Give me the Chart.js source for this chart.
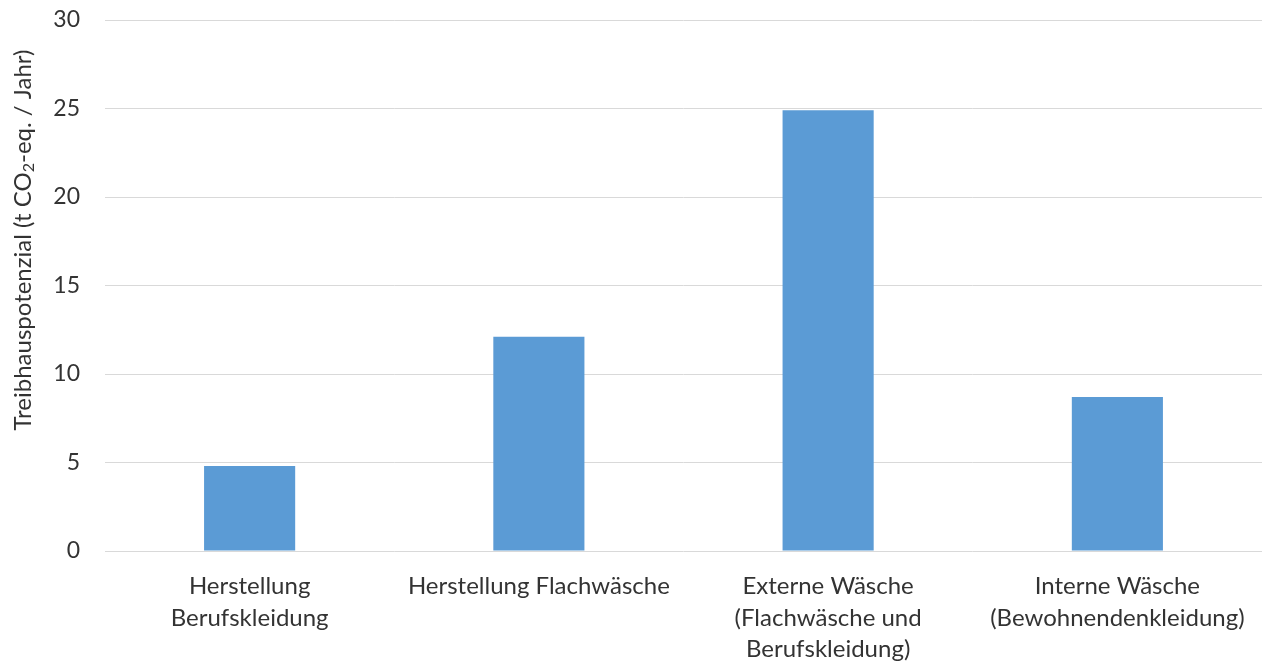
<!DOCTYPE html>
<html>
<head>
<meta charset="utf-8">
<script src="https://cdn.jsdelivr.net/npm/chart.js@4.4.1/dist/chart.umd.min.js"></script>
<style>
  html, body { margin: 0; padding: 0; background: #fff; }
  #wrap { width: 1262px; height: 664px; position: relative; }
</style>
</head>
<body>
<div id="wrap"><canvas id="chart"></canvas></div>
<script>
// categories (multi-line labels) and values in t CO2-eq. per year
const categories = [
    ['Herstellung', 'Berufskleidung'],
    ['Herstellung Flachwäsche'],
    ['Externe Wäsche', '(Flachwäsche und', 'Berufskleidung)'],
    ['Interne Wäsche', '(Bewohnendenkleidung)']
];
const values = [4.8, 12.1, 24.9, 8.7];
const yTicks = [0, 5, 10, 15, 20, 25, 30];

const FONT = 'Lato, "Open Sans", sans-serif';
const TEXT_COLOR = '#333333';

// y-axis title with a real subscript "2"
const axisTitlePlugin = {
    id: 'axisTitle',
    afterDraw(chart) {
        const ctx = chart.ctx;
        const parts = [
            { t: 'Treibhauspotenzial (t CO', size: 24, dy: 0 },
            { t: '2', size: 16, dy: 6 },
            { t: '-eq. / Jahr)', size: 24, dy: 0 }
        ];
        ctx.save();
        let total = 0;
        parts.forEach(p => {
            ctx.font = `${p.size}px ${FONT}`;
            p.w = ctx.measureText(p.t).width;
            total += p.w;
        });
        ctx.translate(23, 240);
        ctx.rotate(-Math.PI / 2);
        ctx.fillStyle = TEXT_COLOR;
        ctx.textBaseline = 'middle';
        let x = -total / 2;
        parts.forEach(p => {
            ctx.font = `${p.size}px ${FONT}`;
            ctx.fillText(p.t, x, p.dy);
            x += p.w;
        });
        ctx.restore();
    }
};

new Chart(document.getElementById('chart'), {
    type: 'bar',
    data: {
        labels: categories,
        datasets: [{
            data: values,
            backgroundColor: '#5B9BD5',
            borderWidth: 0,
            barPercentage: 1,
            categoryPercentage: 0.315
        }]
    },
    options: {
        responsive: true,
        maintainAspectRatio: false,
        animation: false,
        layout: { padding: 0 },
        plugins: {
            legend: { display: false },
            tooltip: { enabled: false }
        },
        scales: {
            y: {
                min: 0,
                max: 30,
                afterBuildTicks: axis => {
                    axis.ticks = yTicks.map(v => ({ value: v }));
                },
                afterFit: axis => {
                    axis.width = 105;
                    axis.paddingTop = 20;
                    axis.paddingBottom = 0;
                },
                border: { display: false },
                grid: { color: '#D9D9D9', lineWidth: 1, drawTicks: false },
                ticks: {
                    padding: 25,
                    color: TEXT_COLOR,
                    font: { family: FONT, size: 23 }
                }
            },
            x: {
                afterFit: axis => {
                    axis.height = 113;
                    axis.paddingTop = 0;
                    axis.paddingBottom = 0;
                    axis.paddingLeft = 0;
                    axis.paddingRight = 0;
                },
                border: { display: false },
                grid: { display: false, drawTicks: false },
                ticks: {
                    padding: 20,
                    maxRotation: 0,
                    autoSkip: false,
                    color: TEXT_COLOR,
                    font: { family: FONT, size: 24, lineHeight: 1.3 }
                }
            }
        }
    },
    plugins: [axisTitlePlugin]
});
</script>
</body>
</html>
